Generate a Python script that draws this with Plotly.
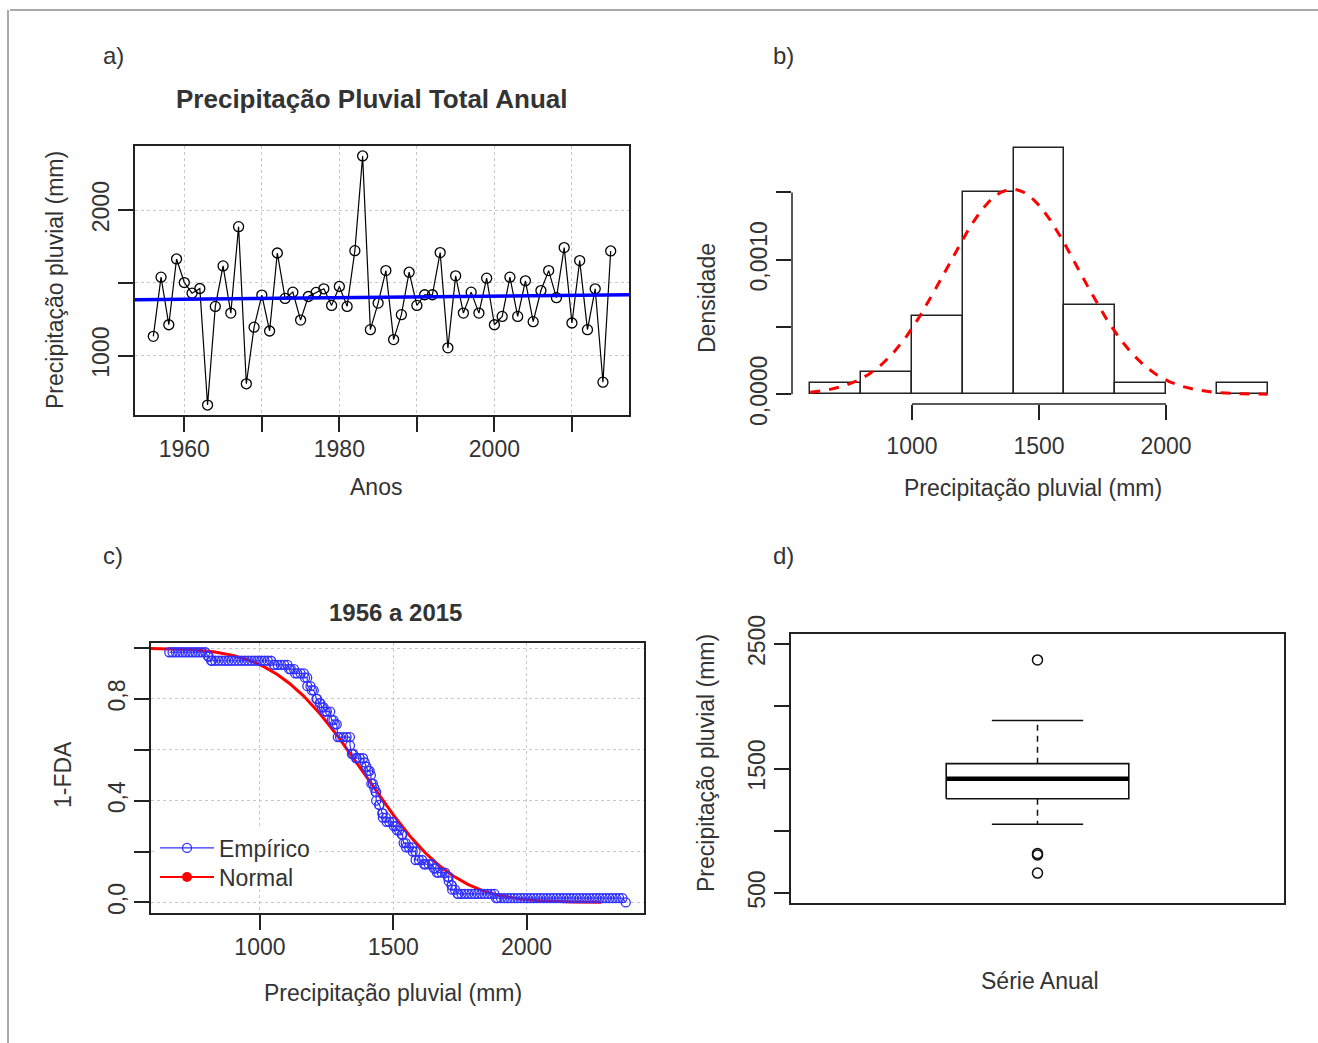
import math
import numpy as np
import plotly.graph_objects as go

W, H = 1318, 1043
FONT = "Liberation Sans, Arial, sans-serif"
TXT = "#333333"
AXC = "#222222"

# ---------------- data ----------------
years = list(range(1956, 2016))
precip = [1132, 1539, 1212, 1664, 1502, 1429, 1461, 660, 1338, 1616,
          1292, 1886, 806, 1195, 1416, 1169, 1705, 1393, 1436, 1244,
          1406, 1434, 1459, 1345, 1475, 1338, 1721, 2372, 1178, 1361,
          1584, 1110, 1281, 1573, 1345, 1418, 1418, 1708, 1053, 1548,
          1292, 1436, 1292, 1532, 1212, 1269, 1539, 1269, 1514, 1233,
          1447, 1584, 1398, 1742, 1224, 1653, 1178, 1459, 817, 1719]

# trend line (panel a)
trend_years = [1953.64, 2017.36]
trend_values = [1383, 1418]

# fitted normal parameters
NORMAL_MEAN = 1395
NORMAL_SD = 262

# histogram bins
hist_start, hist_end, hist_size = 600, 2400, 200

# tick definitions
a_xticks = [1960, 1970, 1980, 1990, 2000, 2010]
a_xtext = ["1960", "", "1980", "", "2000", ""]
a_yticks = [1000, 1500, 2000]
a_ytext = ["1000", "", "2000"]
b_xticks = [1000, 1500, 2000]
b_xtext = ["1000", "1500", "2000"]
b_yticks = [0, 0.0005, 0.0010, 0.0015]
b_ytext = ["0,0000", "", "0,0010", ""]
c_xticks = [1000, 1500, 2000]
c_xtext = ["1000", "1500", "2000"]
c_yticks = [0, 0.2, 0.4, 0.6, 0.8, 1.0]
c_ytext = ["0,0", "", "0,4", "", "0,8", ""]
d_yticks = [500, 1000, 1500, 2000, 2500]
d_ytext = ["500", "", "1500", "", "2500"]

BOX_POS = 1.0
BOX_HALF = 0.2
CAP_HALF = 0.1


def dx(a, b):
    return [a / W, b / W]


def dy(top, bottom):
    return [1 - bottom / H, 1 - top / H]


def norm_sf(x):
    return 0.5 * (1 - math.erf((x - NORMAL_MEAN) / (NORMAL_SD * math.sqrt(2))))


def norm_pdf(x):
    return math.exp(-0.5 * ((x - NORMAL_MEAN) / NORMAL_SD) ** 2) / (NORMAL_SD * math.sqrt(2 * math.pi))


fig = go.Figure()

# ---------------- panel a ----------------
fig.add_trace(go.Scatter(x=years, y=precip, mode="lines+markers",
                         line=dict(color="black", width=1.2),
                         marker=dict(symbol="circle-open", size=10, color="black", line=dict(width=1.3)),
                         xaxis="x", yaxis="y", showlegend=False))
fig.add_trace(go.Scatter(x=trend_years, y=trend_values, mode="lines",
                         line=dict(color="#0000ff", width=3.5),
                         xaxis="x", yaxis="y", showlegend=False))

# ---------------- panel b ----------------
fig.add_trace(go.Histogram(x=precip, histnorm="probability density",
                           xbins=dict(start=hist_start, end=hist_end, size=hist_size),
                           autobinx=False,
                           marker=dict(color="white", line=dict(color="#222", width=1.5)),
                           xaxis="x2", yaxis="y2", showlegend=False))
bx = np.linspace(hist_start, hist_end, 300)
fig.add_trace(go.Scatter(x=bx, y=[norm_pdf(v) for v in bx], mode="lines",
                         line=dict(color="#ff0000", width=3, dash="10px,9px"),
                         xaxis="x2", yaxis="y2", showlegend=False))

# ---------------- panel c ----------------
arr = np.sort(np.array(precip, dtype=float))
n = len(arr)
grid = np.linspace(arr.min(), arr.max(), 140)
grid = np.unique(np.concatenate([grid, arr]))
emp = [1 - np.searchsorted(arr, g, side="right") / n for g in grid]
rx = np.linspace(560, 2281, 300)
fig.add_trace(go.Scatter(x=rx, y=[norm_sf(v) for v in rx], mode="lines",
                         line=dict(color="#ff0000", width=3),
                         xaxis="x3", yaxis="y3", showlegend=False))
fig.add_trace(go.Scatter(x=grid, y=emp, mode="lines+markers", name="Empírico",
                         line=dict(color="#3030ff", width=1.2),
                         marker=dict(symbol="circle-open", size=9, color="#3030ff", line=dict(width=1.3)),
                         xaxis="x3", yaxis="y3", showlegend=True, legend="legend"))
fig.add_trace(go.Scatter(x=[None], y=[None], mode="lines+markers", name="Normal",
                         line=dict(color="#ff0000", width=2),
                         marker=dict(symbol="circle", size=10, color="#ff0000"),
                         xaxis="x3", yaxis="y3", showlegend=True, legend="legend2"))

# ---------------- panel d (boxplot, Tukey hinges) ----------------
med = float(np.median(arr))
half = n // 2
q1 = float(np.median(arr[:half + (n % 2)]))
q3 = float(np.median(arr[half:]))
iqr = q3 - q1
lo_fence, hi_fence = q1 - 1.5 * iqr, q3 + 1.5 * iqr
inside = arr[(arr >= lo_fence) & (arr <= hi_fence)]
w_lo, w_hi = float(inside.min()), float(inside.max())
outl = arr[(arr < lo_fence) | (arr > hi_fence)]

L, R = BOX_POS - BOX_HALF, BOX_POS + BOX_HALF
fig.add_trace(go.Scatter(x=[L, R, R, L, L], y=[q1, q1, q3, q3, q1], mode="lines",
                         line=dict(color="#111", width=1.6), xaxis="x4", yaxis="y4", showlegend=False))
fig.add_trace(go.Scatter(x=[L, R], y=[med, med], mode="lines",
                         line=dict(color="#000", width=4.5), xaxis="x4", yaxis="y4", showlegend=False))
for a_, b_ in [(q3, w_hi), (q1, w_lo)]:
    fig.add_trace(go.Scatter(x=[BOX_POS, BOX_POS], y=[a_, b_], mode="lines",
                             line=dict(color="#111", width=1.5, dash="6px,5px"),
                             xaxis="x4", yaxis="y4", showlegend=False))
for w in [w_hi, w_lo]:
    fig.add_trace(go.Scatter(x=[BOX_POS - CAP_HALF, BOX_POS + CAP_HALF], y=[w, w], mode="lines",
                             line=dict(color="#111", width=1.5), xaxis="x4", yaxis="y4", showlegend=False))
fig.add_trace(go.Scatter(x=[BOX_POS] * len(outl), y=outl, mode="markers",
                         marker=dict(symbol="circle-open", size=10, color="#111", line=dict(width=1.5)),
                         xaxis="x4", yaxis="y4", showlegend=False))

# ---------------- axes ----------------
base = dict(showline=True, linecolor=AXC, linewidth=1.5, mirror=True, ticks="outside",
            ticklen=15, tickwidth=1.5, tickcolor=AXC, zeroline=False, showgrid=False,
            automargin=False,
            tickfont=dict(size=23, color=TXT, family=FONT), fixedrange=True)
grid_kw = dict(showgrid=True, gridcolor="#c8c8c8", griddash="dot", gridwidth=1)
XS, YS = -2, 0

fig.update_layout(
    xaxis=dict(base, domain=dx(135, 629), range=[1953.64, 2017.36], tickvals=a_xticks,
               ticktext=a_xtext, anchor="y", ticklabelstandoff=XS, **grid_kw),
    yaxis=dict(base, domain=dy(146, 415), range=[591.5, 2440.5], tickvals=a_yticks,
               ticktext=a_ytext, anchor="x", tickangle=-90, ticklabelstandoff=YS, **grid_kw),
    xaxis2=dict(base, showline=False, mirror=False, domain=dx(792, 1286), range=[528, 2472],
                tickvals=b_xticks, ticktext=b_xtext, anchor="y2", ticklabelstandoff=XS + 8),
    yaxis2=dict(base, showline=False, mirror=False, domain=dy(134, 404), range=[-0.0000721, 0.001934],
                tickvals=b_yticks, ticktext=b_ytext, anchor="x2", tickangle=-90, ticklabelstandoff=YS),
    xaxis3=dict(base, domain=dx(151, 644), range=[591.5, 2440.5], tickvals=c_xticks,
                ticktext=c_xtext, anchor="y3", ticklabelstandoff=XS, **grid_kw),
    yaxis3=dict(base, domain=dy(643, 913), range=[-0.0417, 1.0197], tickvals=c_yticks,
                ticktext=c_ytext, anchor="x3", tickangle=-90, ticklabelstandoff=YS, **grid_kw),
    xaxis4=dict(base, domain=dx(791, 1284), range=[0.46, 1.54], ticks="", showticklabels=False,
                anchor="y4"),
    yaxis4=dict(base, domain=dy(634, 903), range=[420, 2580], tickvals=d_yticks,
                ticktext=d_ytext, anchor="x4", tickangle=-90, ticklabelstandoff=YS),
)

# b axis lines spanning only the tick range
fig.add_shape(type="line", xref="x2", yref="y2 domain", x0=min(b_xticks), x1=max(b_xticks), y0=0, y1=0,
              line=dict(color=AXC, width=1.5))
fig.add_shape(type="line", xref="x2 domain", yref="y2", x0=0, x1=0, y0=min(b_yticks), y1=max(b_yticks),
              line=dict(color=AXC, width=1.5))

# outer frame lines
fig.add_shape(type="line", xref="paper", yref="paper", x0=10 / W, x1=1, y0=1 - 10 / H, y1=1 - 10 / H,
              line=dict(color="#555", width=1))
fig.add_shape(type="line", xref="paper", yref="paper", x0=8 / W, x1=8 / W, y0=1 - 10 / H, y1=0,
              line=dict(color="#555", width=1))


def ann(text, x, y, size=23, angle=0, bold=False):
    fig.add_annotation(text=("<b>%s</b>" % text) if bold else text, x=x / W, y=1 - y / H,
                       xref="paper", yref="paper", showarrow=False, textangle=angle,
                       xanchor="center", yanchor="middle",
                       font=dict(size=size, color=TXT, family=FONT))


ann("a)", 113, 55, size=24)
ann("b)", 783, 55, size=24)
ann("c)", 113, 555, size=24)
ann("d)", 783, 555, size=24)
ann("Precipitação Pluvial Total Anual", 372, 99, size=26, bold=True)
ann("1956 a 2015", 395, 612, size=24, bold=True)
ann("Anos", 376, 487)
ann("Precipitação pluvial (mm)", 55, 280, angle=-90)
ann("Precipitação pluvial (mm)", 1033, 488)
ann("Densidade", 707, 298, angle=-90)
ann("Precipitação pluvial (mm)", 393, 993)
ann("1-FDA", 63, 775, angle=-90)
ann("Série Anual", 1040, 981)
ann("Precipitação pluvial (mm)", 706, 763, angle=-90)

leg_common = dict(xanchor="left", yanchor="middle", borderwidth=0,
                  font=dict(size=23, color=TXT, family=FONT), itemwidth=54, tracegroupgap=0)
fig.update_layout(
    width=W, height=H, margin=dict(l=0, r=0, t=0, b=0, autoexpand=False),
    paper_bgcolor="white", plot_bgcolor="white",
    font=dict(family=FONT, color=TXT, size=23),
    bargap=0,
    legend=dict(leg_common, x=155 / W, y=1 - 848 / H, bgcolor="white"),
    legend2=dict(leg_common, x=155 / W, y=1 - 877 / H, bgcolor="rgba(255,255,255,0)"),
)

fig.write_html("out.html")
